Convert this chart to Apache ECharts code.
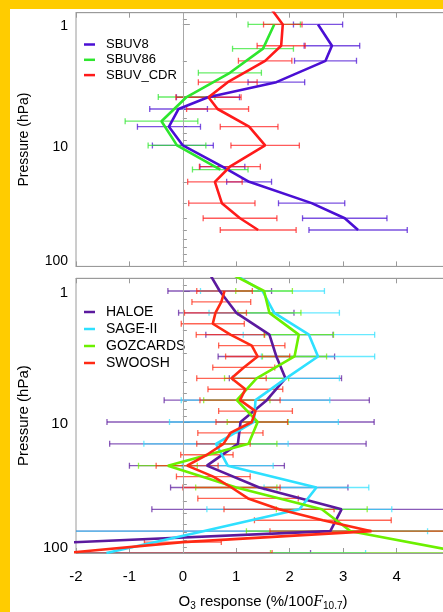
<!DOCTYPE html>
<html><head><meta charset="utf-8">
<script src="https://cdn.jsdelivr.net/npm/echarts@6/dist/echarts.min.js"></script>
<style>
html,body{margin:0;padding:0;width:443px;height:612px;overflow:hidden;background:#ffcc00;}
#bg{position:absolute;left:10px;top:9px;right:0;bottom:0;background:#fff;}
#c{position:absolute;left:0;top:0;width:460px;height:612px;}
</style></head>
<body><div id="bg"></div><div id="c"></div>
<script>
// ---------------- data (top panel) ----------------
const sbuvLevels   = [1, 1.5, 2, 3, 4, 5, 7, 10, 15, 20, 30, 40, 50];
const sbuv8        = [2.53, 2.79, 2.67, 1.75, 0.47, -0.08, -0.26, 0.0, 0.74, 1.24, 2.41, 3.03, 3.28];
const sbuv8Err     = [0.46, 0.52, 0.58, 0.53, 0.59, 0.54, 0.59, 0.57, 0.42, 0.42, 0.62, 0.79, 0.92];
const sbuv86Levels = [1, 1.585, 2.512, 3.981, 6.31, 10, 15.85];
const sbuv86       = [1.71, 1.50, 0.88, 0.07, -0.40, -0.11, 0.70];
const sbuv86Err    = [0.49, 0.57, 0.59, 0.53, 0.68, 0.54, 0.52];
const cdrLevels    = [0.7, 1, 1.5, 2, 3, 4, 5, 7, 10, 15, 20, 30, 40, 50];
const sbuvCdr      = [1.61, 1.87, 1.84, 1.54, 0.84, 0.48, 0.65, 1.24, 1.54, 0.88, 0.60, 0.73, 1.07, 1.41];
const sbuvCdrErr   = [0.40, 0.36, 0.45, 0.50, 0.55, 0.61, 0.58, 0.54, 0.64, 0.57, 0.51, 0.62, 0.69, 0.71];
// ---------------- data (bottom panel) ----------------
const sixLevels    = [0.6813, 1, 1.468, 2.154, 3.162, 4.642, 6.813, 10, 14.68, 21.54, 31.62, 46.42, 68.13, 100];
const haloe        = [0.45, 0.69, 1.00, 1.62, 1.75, 1.92, 1.57, 1.08, 1.03, 0.45, 1.43, 2.97, 2.76, -6.75];
const haloeErr     = [1.0, 0.97, 1.08, 1.19, 1.09, 1.05, 1.92, 2.50, 2.40, 1.45, 1.66, 3.55, 6.0, 9.14];
const sage         = [0.80, 1.49, 1.71, 2.36, 2.53, 1.93, 1.36, 1.33, 0.62, 0.84, 2.50, 2.18, 0.38, -1.43];
const sageErr      = [1.1, 1.16, 1.22, 1.23, 1.06, 1.00, 1.39, 1.58, 1.35, 0.85, 0.98, 1.73, 4.20, 4.85];
const gozcards     = [0.73, 1.52, 1.62, 2.17, 2.09, 1.38, 1.01, 1.40, 1.23, -0.28, 1.00, 2.60, 3.14, 5.30];
const gozcardsErr  = [0.5, 0.53, 0.59, 0.65, 0.60, 0.60, 0.62, 0.57, 0.53, 0.55, 0.76, 0.85, 1.95, 3.66];
const swooshLevels = [1, 1.212, 1.468, 1.778, 2.154, 2.610, 3.162, 3.831, 4.642, 5.623, 6.813, 8.254, 10,
                      12.12, 14.68, 17.78, 21.54, 26.10, 31.62, 38.31, 46.42, 56.23, 68.13, 82.54, 100];
const swoosh       = [0.78, 0.72, 0.61, 0.56, 0.89, 1.29, 1.40, 1.14, 0.91, 1.17, 1.07, 1.36, 1.29,
                      0.89, 0.76, 0.45, 0.08, 0.57, 0.91, 1.22, 1.80, 2.62, 3.53, 0.00, -2.20];
const swooshErr    = [0.52, 0.55, 0.58, 0.59, 0.64, 0.62, 0.60, 0.58, 0.65, 0.70, 0.75, 0.69, 0.67,
                      0.61, 0.50, 0.49, 0.58, 0.69, 0.91, 0.94, 1.03, 1.28, 1.90, 0.72, 3.87];
// ---------------- axis tick labels ----------------
const xTicks      = [-2, -1, 0, 1, 2, 3, 4, 5];
const yMajorTicks = [1, 10, 100];
const yMinorTicks = [0.9, 2, 3, 4, 5, 6, 7, 8, 9, 20, 30, 40, 50, 60, 70, 80, 90];

const FONT = 'Liberation Sans, Arial, Helvetica, sans-serif';
const AXC = '#9a9a9a';

function pts(vals, levels, errs) {
  return vals.map((v, i) => errs ? [v, levels[i], errs[i]] : [v, levels[i]]);
}
function renderErr(params, api) {
  const v = api.value(0), p = api.value(1), e = api.value(2);
  const a = api.coord([v - e, p]), b = api.coord([v + e, p]);
  const h = 3;
  const style = { stroke: api.visual('color'), lineWidth: 1.3, opacity: 0.72 };
  return { type: 'group', children: [
    { type: 'line', shape: { x1: a[0], y1: a[1], x2: b[0], y2: b[1] }, style: style },
    { type: 'line', shape: { x1: a[0], y1: a[1] - h, x2: a[0], y2: a[1] + h }, style: style },
    { type: 'line', shape: { x1: b[0], y1: b[1] - h, x2: b[0], y2: b[1] + h }, style: style }
  ]};
}

function xAx(grid, pos, labels) {
  return {
    type: 'value', gridIndex: grid, position: pos, min: xTicks[0], max: xTicks[xTicks.length - 1], interval: 1,
    axisLine: { show: true, lineStyle: { color: AXC, width: 1 } },
    axisTick: { show: true, inside: true, length: 5, lineStyle: { color: AXC } },
    axisLabel: { show: labels, margin: 16, color: '#000', fontFamily: FONT, fontSize: 15,
                 showMaxLabel: false },
    splitLine: { show: false },
    name: labels ? '{n|O}{s|3}{n| response (%/100}{f|F}{s|10.7}{n|)}' : '',
    nameLocation: 'middle', nameGap: 39,
    nameTextStyle: { rich: {
      n: { fontFamily: FONT, fontSize: 15, color: '#000' },
      s: { fontFamily: FONT, fontSize: 10, color: '#000', padding: [9, 0, 0, 0] },
      f: { fontFamily: 'Liberation Serif, Times New Roman, serif', fontStyle: 'italic', fontSize: 16, color: '#000' }
    } }
  };
}
function yMajor(grid, fs, nameGap) {
  return {
    type: 'log', gridIndex: grid, position: 'left', inverse: true, min: 0.8, max: 100, logBase: 10,
    axisLine: { show: true, lineStyle: { color: AXC, width: 1 } },
    axisTick: { show: true, inside: true, length: 7, customValues: yMajorTicks, lineStyle: { color: AXC } },
    axisLabel: { show: true, customValues: yMajorTicks, margin: 8, color: '#000', fontFamily: FONT, fontSize: fs,
      formatter: v => (Math.round(v) === 100 ? '{u|100}' : '{m|' + Math.round(v) + '}'),
      rich: { u: { fontFamily: FONT, fontSize: fs, color: '#000', padding: [0, 0, 10, 0] },
              m: { fontFamily: FONT, fontSize: fs, color: '#000', padding: [3, 0, 0, 0] } } },
    splitLine: { show: false },
    name: 'Pressure (hPa)', nameLocation: 'middle', nameGap: nameGap,
    nameTextStyle: { fontFamily: FONT, fontSize: fs, color: '#000' }
  };
}
function yMinor(grid) {
  return {
    type: 'log', gridIndex: grid, position: 'left', inverse: true, min: 0.8, max: 100, logBase: 10,
    axisLine: { show: false },
    axisTick: { show: true, inside: true, length: 4, customValues: yMinorTicks, lineStyle: { color: AXC } },
    axisLabel: { show: false },
    splitLine: { show: false }
  };
}

function lineS(name, data, color, xi, yi, withZero) {
  const s = { name: name, type: 'line', xAxisIndex: xi, yAxisIndex: yi, data: data, showSymbol: false,
    symbol: 'none', clip: true, z: 5, lineStyle: { color: color, width: 2.6 }, itemStyle: { color: color },
    animation: false };
  if (withZero) {
    s.markLine = { silent: true, symbol: 'none', animation: false, label: { show: false },
      lineStyle: { color: '#a8a8a8', width: 1, type: 'solid' }, data: [{ xAxis: 0 }] };
  }
  return s;
}
function errS(name, data, color, xi, yi) {
  return { name: name + ' err', type: 'custom', xAxisIndex: xi, yAxisIndex: yi, data: data, clip: true, z: 3,
    renderItem: renderErr, itemStyle: { color: color }, encode: { x: 0, y: 1 }, animation: false };
}

const C = { sbuv8: '#4a0fd4', sbuv86: '#2ee62e', cdr: '#ff1a1a',
            haloe: '#5b1a9e', sage: '#2ee0ff', goz: '#6cf000', swoosh: '#ff2a14' };

const chart = echarts.init(document.getElementById('c'), null, { renderer: 'canvas' });
chart.setOption({
  animation: false,
  backgroundColor: 'transparent',
  grid: [
    { left: 76, right: 10, top: 12.7, height: 253.7, show: true, borderColor: AXC, borderWidth: 1, backgroundColor: 'transparent' },
    { left: 76, right: 10, top: 278.3, height: 276.7, show: true, borderColor: AXC, borderWidth: 1, backgroundColor: 'transparent' }
  ],
  xAxis: [xAx(0, 'bottom', false), xAx(0, 'top', false), xAx(1, 'bottom', true), xAx(1, 'top', false)],
  yAxis: [yMajor(0, 14, 45), yMinor(0), yMajor(1, 15, 45), yMinor(1)],
  legend: [
    { data: ['SBUV8', 'SBUV86', 'SBUV_CDR'], orient: 'vertical', left: 84, top: 37, padding: 0, icon: 'rect',
      itemWidth: 11, itemHeight: 2.5, itemGap: 0.3,
      textStyle: { fontFamily: FONT, fontSize: 13, color: '#000', lineHeight: 15, padding: [0, 0, 0, 6] } },
    { data: ['HALOE', 'SAGE-II', 'GOZCARDS', 'SWOOSH'], orient: 'vertical', left: 84, top: 303.5, padding: 0, icon: 'rect',
      itemWidth: 11, itemHeight: 2.5, itemGap: 0,
      textStyle: { fontFamily: FONT, fontSize: 14, color: '#000', lineHeight: 17, padding: [0, 0, 0, 6] } }
  ],
  series: [
    errS('SBUV8', pts(sbuv8, sbuvLevels, sbuv8Err), C.sbuv8, 0, 0),
    errS('SBUV86', pts(sbuv86, sbuv86Levels, sbuv86Err), C.sbuv86, 0, 0),
    errS('SBUV_CDR', pts(sbuvCdr, cdrLevels, sbuvCdrErr), C.cdr, 0, 0),
    lineS('SBUV8', pts(sbuv8, sbuvLevels), C.sbuv8, 0, 0, true),
    lineS('SBUV86', pts(sbuv86, sbuv86Levels), C.sbuv86, 0, 0, false),
    lineS('SBUV_CDR', pts(sbuvCdr, cdrLevels), C.cdr, 0, 0, false),

    errS('HALOE', pts(haloe, sixLevels, haloeErr), C.haloe, 2, 2),
    errS('SAGE-II', pts(sage, sixLevels, sageErr), C.sage, 2, 2),
    errS('GOZCARDS', pts(gozcards, sixLevels, gozcardsErr), C.goz, 2, 2),
    errS('SWOOSH', pts(swoosh, swooshLevels, swooshErr), C.swoosh, 2, 2),
    lineS('HALOE', pts(haloe, sixLevels), C.haloe, 2, 2, true),
    lineS('SAGE-II', pts(sage, sixLevels), C.sage, 2, 2, false),
    lineS('GOZCARDS', pts(gozcards, sixLevels), C.goz, 2, 2, false),
    lineS('SWOOSH', pts(swoosh, swooshLevels), C.swoosh, 2, 2, false)
  ]
});
</script></body></html>
